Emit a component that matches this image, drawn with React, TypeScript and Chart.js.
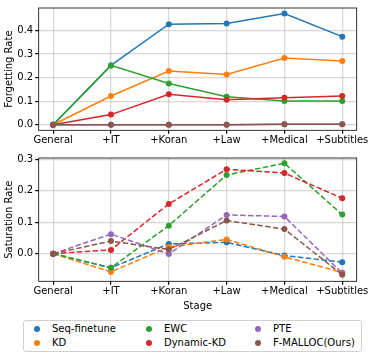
import React, { useEffect, useRef } from "react";
import { Chart, registerables } from "chart.js";

Chart.register(...registerables);

const stages = ["General", "+IT", "+Koran", "+Law", "+Medical", "+Subtitles"];
const methods = ["Seq-finetune", "KD", "EWC", "Dynamic-KD", "PTE", "F-MALLOC(Ours)"];
const colors = ["#1f77b4", "#ff7f0e", "#2ca02c", "#d62728", "#9467bd", "#8c564b"];

const forgetSeq = [0, 0.252, 0.427, 0.43, 0.472, 0.374];
const forgetKD = [0, 0.122, 0.228, 0.213, 0.283, 0.271];
const forgetEWC = [0, 0.252, 0.175, 0.119, 0.101, 0.101];
const forgetDKD = [0, 0.043, 0.129, 0.106, 0.115, 0.122];
const forgetPTE = [0, 0, 0, 0, 0.002, 0.002];
const forgetFM = [0, 0, 0, 0, 0.002, 0.002];

const satSeq = [0, -0.045, 0.031, 0.036, -0.006, -0.027];
const satKD = [0, -0.058, 0.021, 0.045, -0.01, -0.06];
const satEWC = [0, -0.045, 0.089, 0.25, 0.287, 0.124];
const satDKD = [0, 0.012, 0.158, 0.268, 0.256, 0.176];
const satPTE = [0, 0.062, -0.001, 0.123, 0.118, -0.062];
const satFM = [0, 0.04, 0.013, 0.105, 0.078, -0.067];

const forgetTicks = [0, 0.1, 0.2, 0.3, 0.4];
const satTicks = [0, 0.1, 0.2, 0.3];

const FONT = "'DejaVu Sans', sans-serif";
const FS = 10;

const framePlugin = {
  id: "frame",
  afterDatasetsDraw(chart: any) {
    const { ctx, chartArea } = chart;
    ctx.save();
    ctx.strokeStyle = "#000";
    ctx.lineWidth = 0.8;
    ctx.strokeRect(chartArea.left, chartArea.top, chartArea.right - chartArea.left, chartArea.bottom - chartArea.top);
    ctx.restore();
  },
};

function makeConfig(
  series: number[][],
  yTicks: number[],
  yMin: number,
  yMax: number,
  yTitle: string,
  dashed: boolean,
  xTitle: string | null,
  padTop: number,
  xAxisHeight: number
): any {
  return {
    type: "line",
    data: {
      datasets: series.map((vals, i) => ({
        label: methods[i],
        data: vals.map((v, j) => ({ x: j, y: v })),
        borderColor: colors[i],
        backgroundColor: colors[i],
        pointBackgroundColor: colors[i],
        pointBorderColor: colors[i],
        pointRadius: 3,
        pointBorderWidth: 0,
        borderWidth: 1.5,
        borderDash: dashed ? [5.5, 2.4] : [],
        tension: 0,
        fill: false,
        order: 5 - i,
      })),
    },
    options: {
      responsive: false,
      animation: false,
      layout: { padding: { top: padTop, right: 17.3, left: 0, bottom: 0 } },
      plugins: { legend: { display: false }, tooltip: { enabled: false } },
      scales: {
        x: {
          type: "linear",
          min: -0.25,
          max: 5.25,
          afterBuildTicks: (s: any) => {
            s.ticks = stages.map((_, i) => ({ value: i }));
          },
          afterFit: (s: any) => {
            s.height = xAxisHeight;
          },
          ticks: {
            callback: (v: any) => stages[v] ?? "",
            color: "#000",
            font: { family: FONT, size: FS },
            padding: 1,
            maxRotation: 0,
            autoSkip: false,
          },
          grid: { color: "rgba(176,176,176,0.5)", lineWidth: 1.2, tickColor: "#000", tickLength: 3.5 },
          border: { display: false },
          title: {
            display: !!xTitle,
            text: xTitle || "",
            color: "#000",
            font: { family: FONT, size: FS },
            padding: { top: 0, bottom: 0 },
          },
        },
        y: {
          type: "linear",
          min: yMin,
          max: yMax,
          afterBuildTicks: (s: any) => {
            s.ticks = yTicks.map((v) => ({ value: v }));
          },
          afterFit: (s: any) => {
            s.width = 38.7;
          },
          ticks: {
            callback: (v: any) => Number(v).toFixed(1),
            color: "#000",
            font: { family: FONT, size: FS },
            padding: 2,
          },
          grid: { color: "rgba(176,176,176,0.5)", lineWidth: 1.2, tickColor: "#000", tickLength: 3.5 },
          border: { display: false },
          title: {
            display: true,
            text: yTitle,
            color: "#000",
            font: { family: FONT, size: FS },
            padding: { top: 3, bottom: 2 },
          },
        },
      },
    },
    plugins: [framePlugin],
  };
}

function LineChart(props: { config: any; width: number; height: number; top: number }) {
  const ref = useRef<HTMLCanvasElement | null>(null);
  useEffect(() => {
    if (!ref.current) return;
    const c = new Chart(ref.current, props.config);
    return () => c.destroy();
  }, []);
  return (
    <canvas
      ref={ref}
      width={props.width}
      height={props.height}
      style={{ position: "absolute", left: 0, top: props.top, width: props.width, height: props.height }}
    />
  );
}

export default function App() {
  const topCfg = makeConfig(
    [forgetSeq, forgetKD, forgetEWC, forgetDKD, forgetPTE, forgetFM],
    forgetTicks,
    -0.0236,
    0.4956,
    "Forgetting Rate",
    false,
    null,
    5,
    17.7
  );
  const botCfg = makeConfig(
    [satSeq, satKD, satEWC, satDKD, satPTE, satFM],
    satTicks,
    -0.0878,
    0.3038,
    "Saturation Rate",
    true,
    "Stage",
    5.7,
    30.7
  );
  const legendCols = [
    [0, 1],
    [2, 3],
    [4, 5],
  ];
  const colX = [37, 149, 258];
  return (
    <div style={{ position: "absolute", left: 0, top: 0, width: 374, height: 358, background: "#fff", fontFamily: FONT }}>
      <LineChart config={topCfg} width={374} height={148} top={0} />
      <LineChart config={botCfg} width={374} height={162} top={150} />
      <div
        style={{
          position: "absolute",
          left: 23,
          top: 320,
          width: 339,
          height: 32,
          border: "1px solid #d0d0d0",
          borderRadius: 3,
          boxSizing: "border-box",
        }}
      />
      {legendCols.map((col, ci) =>
        col.map((idx, ri) => (
          <div
            key={idx}
            style={{
              position: "absolute",
              left: colX[ci] - 3,
              top: (ri === 0 ? 328.7 : 342.7) - 6,
              height: 12,
              display: "flex",
              alignItems: "center",
              fontSize: FS,
              color: "#000",
              whiteSpace: "nowrap",
            }}
          >
            <span
              style={{
                display: "inline-block",
                width: 6,
                height: 6,
                borderRadius: 3,
                background: colors[idx],
                marginRight: 12,
              }}
            />
            <span>{methods[idx]}</span>
          </div>
        ))
      )}
    </div>
  );
}
